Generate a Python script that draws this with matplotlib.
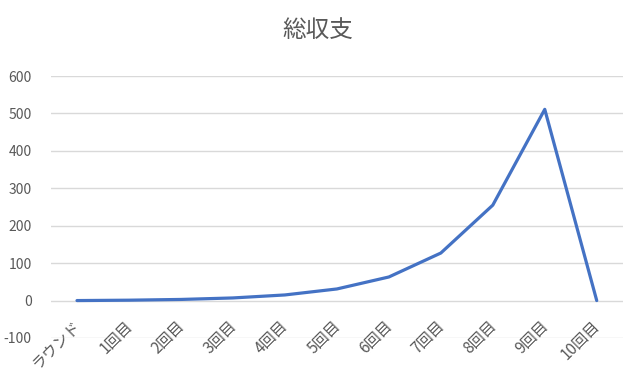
import matplotlib
matplotlib.use("Agg")
import matplotlib.pyplot as plt
from matplotlib.transforms import ScaledTranslation

plt.rcParams['font.family'] = ['Noto Sans CJK JP', 'DejaVu Sans']

rounds = ["ラウンド", "1回目", "2回目", "3回目", "4回目", "5回目",
          "6回目", "7回目", "8回目", "9回目", "10回目"]
total = [0, 1, 3, 7, 15, 31, 63, 127, 255, 511, 0]
yticks = [-100, 0, 100, 200, 300, 400, 500, 600]

grey = "#595959"

fig = plt.figure(figsize=(6.4, 3.86), dpi=100)
ax = fig.add_axes([0.0797, 0.1244, 0.8933, 0.6786])

x = list(range(len(rounds)))
ax.plot(x, total, color="#4472C4", linewidth=2.3, solid_capstyle="round", zorder=3)

ax.set_xlim(-0.5, len(rounds) - 0.5)
ax.set_ylim(-100, 600)
ax.set_yticks(yticks)
ax.set_yticklabels([str(v) for v in yticks])
ax.grid(axis="y", color="#D9D9D9", linewidth=1)
ax.set_axisbelow(True)

# category labels sit next to the zero line (excel style)
ax.spines["bottom"].set_position(("data", 0))
for s in ax.spines.values():
    s.set_visible(False)
ax.set_xticks(x)
ax.set_xticklabels(rounds, rotation=45, ha="right", rotation_mode="anchor")
ax.tick_params(axis="x", length=0, pad=12, labelsize=11, labelcolor=grey)
ax.tick_params(axis="y", length=0, pad=14, labelsize=10, labelcolor=grey)
shift = ScaledTranslation(-0.05, 0, fig.dpi_scale_trans)
for lab in ax.get_xticklabels():
    lab.set_transform(lab.get_transform() + shift)

fig.text(0.497, 0.92, "総収支", ha="center", va="center", fontsize=17, color=grey)

fig.savefig("out.png", dpi=100)
